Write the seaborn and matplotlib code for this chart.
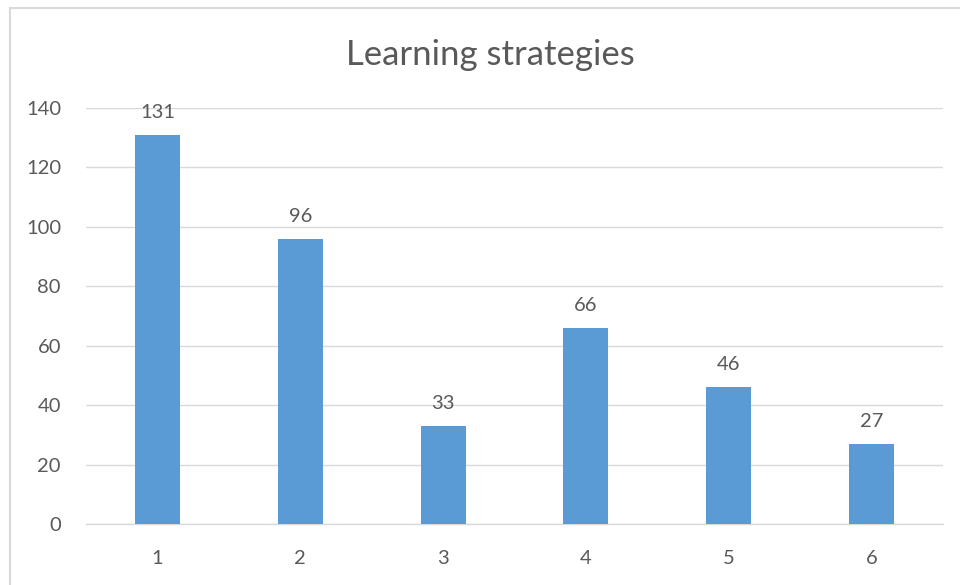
import matplotlib
matplotlib.use("Agg")
import matplotlib.pyplot as plt
import seaborn as sns
import pandas as pd
from matplotlib.patches import Rectangle

categories = ["1", "2", "3", "4", "5", "6"]
values = [131, 96, 33, 66, 46, 27]
yticks = [0, 20, 40, 60, 80, 100, 120, 140]
title = "Learning strategies"

sns.set_style("white")
plt.rcParams["font.family"] = ["Lato", "DejaVu Sans"]

text_color = "#595959"
bar_color = "#5B9BD5"
grid_color = "#D9D9D9"

df = pd.DataFrame({"cat": categories, "val": values})

fig = plt.figure(figsize=(9.6, 5.85), dpi=100)
fig.patches.append(Rectangle((10/960, -0.05), 1.2, 1 - 8/585 + 0.05, transform=fig.transFigure,
                             fill=False, edgecolor="#D9D9D9", linewidth=1.5))
ax = fig.add_axes([86/960, 1 - 524/585, (943 - 86)/960, (524 - 108)/585])
sns.barplot(data=df, x="cat", y="val", color=bar_color, width=0.315, ax=ax,
            saturation=1, zorder=3, linewidth=0)
ax.set_ylim(0, 140)
ax.set_xlim(-0.5, 5.5)
ax.set_yticks(yticks)
ax.set_yticklabels([str(t) for t in yticks])
ax.yaxis.grid(True, color=grid_color, linewidth=1, zorder=0)
ax.set_axisbelow(True)
for s in ["top", "right", "left"]:
    ax.spines[s].set_visible(False)
ax.spines["bottom"].set_color(grid_color)
ax.spines["bottom"].set_linewidth(1)
ax.tick_params(axis="both", length=0, labelsize=14.5, labelcolor=text_color)
ax.tick_params(axis="y", pad=18)
ax.tick_params(axis="x", pad=19)
ax.set_xlabel("")
ax.set_ylabel("")
for i, v in enumerate(values):
    ax.annotate(str(v), (i, v), xytext=(0, 10), textcoords="offset points",
                ha="center", va="bottom", fontsize=14.5, color=text_color)
fig.text(490/960, 1 - 55/585, title, ha="center", va="center", fontsize=25, color=text_color)
fig.savefig("out.png", dpi=100)
